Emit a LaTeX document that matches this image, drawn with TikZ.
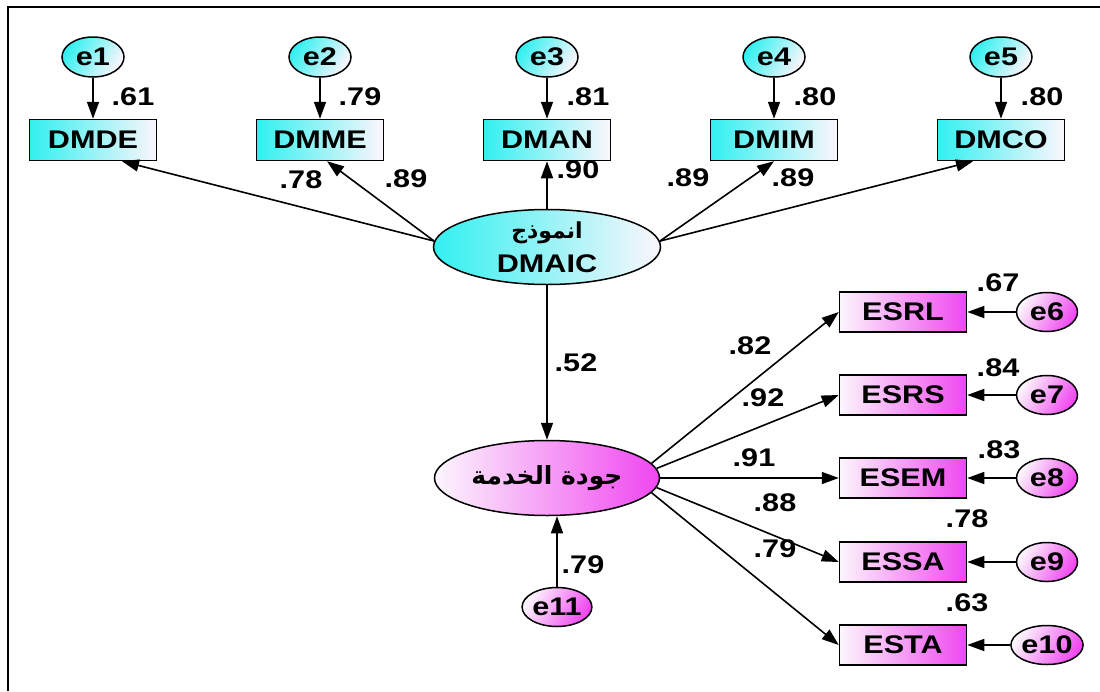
\documentclass[tikz,border=0pt]{standalone}
\usepackage{fontspec}
\setmainfont{Liberation Sans}[FakeStretch=1.2]
\newfontfamily\arabicfont[Script=Arabic]{DejaVu Sans}
\TeXXeTstate=1
\usetikzlibrary{shapes.geometric,arrows.meta}
\definecolor{cyA}{RGB}{50,240,240}
\definecolor{mgA}{RGB}{240,70,240}
\definecolor{paleW}{RGB}{252,246,252}
\newcommand{\lblfont}{\fontsize{25.5}{28}\selectfont\bfseries}
\tikzset{
  obsC/.style={draw, line width=1.5, minimum width=127, minimum height=41, inner sep=0,
    left color=cyA, middle color=cyA!45!paleW, right color=paleW, font=\lblfont},
  obsM/.style={draw, line width=1.5, minimum width=127, minimum height=40, inner sep=0,
    left color=paleW, middle color=mgA!45!paleW, right color=mgA, font=\lblfont},
  errC/.style={draw, ellipse, line width=1.5, minimum width=62, minimum height=40, inner sep=0,
    shading=axis, left color=cyA, right color=paleW, shading angle=60, font=\lblfont},
  errM/.style={draw, ellipse, line width=1.5, minimum width=61, minimum height=39, inner sep=0,
    shading=axis, left color=paleW, right color=mgA, shading angle=60, font=\lblfont},
  latC/.style={draw, ellipse, line width=1.5, minimum width=227, minimum height=75, inner sep=0,
    left color=cyA, middle color=cyA!45!paleW, right color=paleW},
  latM/.style={draw, ellipse, line width=1.5, minimum width=225, minimum height=75, inner sep=0,
    left color=paleW, middle color=mgA!45!paleW, right color=mgA},
  coef/.style={font=\lblfont, inner sep=0},
  arr/.style={line width=1.6, -{Triangle[length=17pt,width=12pt]}}
}
\begin{document}
\begin{tikzpicture}[x=1pt,y=-1pt]
\useasboundingbox (0,0) rectangle (1100,691);
\fill[white] (0,0) rectangle (1100,691);
\draw[line width=1.8] (1100,7) -- (8,7) -- (8,691);

% top indicators
\node[obsC] (dmde) at (93,140) {DMDE};
\node[obsC] (dmme) at (320,140) {DMME};
\node[obsC] (dman) at (547,140) {DMAN};
\node[obsC] (dmim) at (774,140) {DMIM};
\node[obsC] (dmco) at (1001,140) {DMCO};
\node[errC] (e1) at (93,57) {e1};
\node[errC] (e2) at (320,57) {e2};
\node[errC] (e3) at (547,57) {e3};
\node[errC] (e4) at (774,57) {e4};
\node[errC] (e5) at (1001,57) {e5};
\foreach \a/\b in {e1/dmde,e2/dmme,e3/dman,e4/dmim,e5/dmco} \draw[arr] (\a) -- (\b);
\node[coef] (r1) at (133,97) {.61};
\node[coef] (r2) at (360,97) {.79};
\node[coef] (r3) at (588,97) {.81};
\node[coef] (r4) at (815,97) {.80};
\node[coef] (r5) at (1042,97) {.80};

% latent DMAIC
\node[latC] (dmaic) at (547,247) {};
\node[inner sep=0] (dmaicA) at (547,233)
  {\arabicfont\bfseries\fontsize{22}{24}\selectfont\beginR انموذج\endR};
\node[inner sep=0, font=\lblfont] (dmaicB) at (547,264) {DMAIC};
\draw[arr] (dmaic.177) -- ([xshift=29pt]dmde.south);
\draw[arr] (dmaic.177) -- ([xshift=7pt]dmme.south);
\draw[arr] (dmaic.north) -- (dman.south);
\draw[arr] (dmaic.3) -- (dmim.south);
\draw[arr] (dmaic.3) -- ([xshift=-28pt]dmco.south);
\node[coef] at (301,180) {.78};
\node[coef] at (406,179) {.89};
\node[coef] at (578,170) {.90};
\node[coef] at (688,178) {.89};
\node[coef] at (793,178) {.89};

% latent service quality
\node[latM] (sq) at (547,478) {};
\node[inner sep=0] (sqT) at (547,478)
  {\arabicfont\bfseries\fontsize{25}{28}\selectfont\beginR جودة الخدمة\endR};
\draw[arr] (dmaic.south) -- (sq.north);
\node[coef] at (576,363) {.52};

% right indicators
\node[obsM] (esrl) at (903,312) {ESRL};
\node[obsM] (esrs) at (903,395) {ESRS};
\node[obsM] (esem) at (903,478) {ESEM};
\node[obsM] (essa) at (903,562) {ESSA};
\node[obsM] (esta) at (903,645) {ESTA};
\node[errM] (e6) at (1047,312) {e6};
\node[errM] (e7) at (1047,395) {e7};
\node[errM] (e8) at (1047,478) {e8};
\node[errM] (e9) at (1047,562) {e9};
\node[errM] (e10) at (1047,645) {e10};
\foreach \a/\b in {e6/esrl,e7/esrs,e8/esem,e9/essa,e10/esta} \draw[arr] (\a) -- (\b);
\draw[arr] (sq.8) -- (esrl.west);
\draw[arr] (sq.5.5) -- (esrs.west);
\draw[arr] (sq.0) -- (esem.west);
\draw[arr] (sq.-5) -- (essa.west);
\draw[arr] (sq.-8) -- (esta.west);
\node[coef] at (750,346) {.82};
\node[coef] at (763,398) {.92};
\node[coef] at (754,458) {.91};
\node[coef] at (775,503) {.88};
\node[coef] at (775,549) {.79};
\node[coef] at (998,283) {.67};
\node[coef] at (998,368) {.84};
\node[coef] at (999,450) {.83};
\node[coef] at (967,519) {.78};
\node[coef] at (967,603) {.63};

% e11
\node[errM] (e11) at (557,607) {e11};
\draw[arr] (e11.north) -- (e11.north |- sq.south);
\node[coef] at (583,565) {.79};
\end{tikzpicture}
\end{document}
